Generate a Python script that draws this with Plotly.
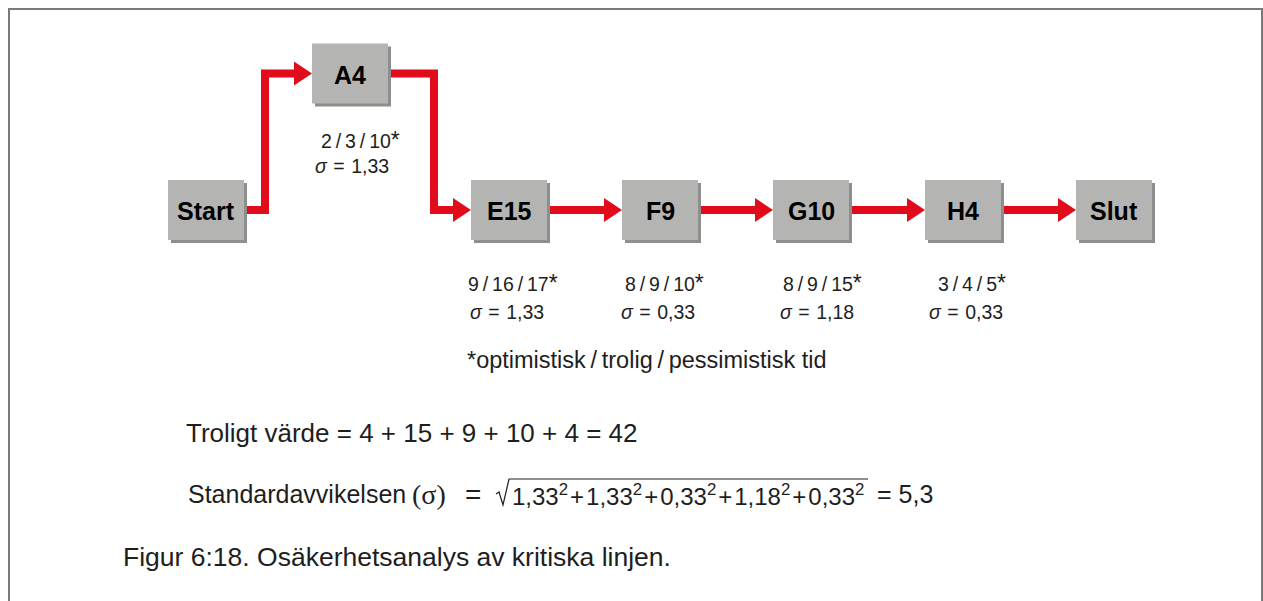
import plotly.graph_objects as go

# ---------------- data ----------------
nodes = ["Start", "A4", "E15", "F9", "G10", "H4", "Slut"]
edges = [("Start", "A4"), ("A4", "E15"), ("E15", "F9"), ("F9", "G10"), ("G10", "H4"), ("H4", "Slut")]
act_nodes = ["A4", "E15", "F9", "G10", "H4"]
optimistic = [2, 9, 8, 8, 3]
likely = [3, 16, 9, 9, 4]
pessimistic = [10, 17, 10, 15, 5]
sigma = ["1,33", "1,33", "0,33", "1,18", "0,33"]
legend_parts = ["*optimistisk", "trolig", "pessimistisk tid"]
sum_terms = [4, 15, 9, 10, 4]
sum_total = 42
sd_terms = ["1,33", "1,33", "0,33", "1,18", "0,33"]
sd_total = "5,3"
caption = "Figur 6:18. Osäkerhetsanalys av kritiska linjen."

# ---------------- layout constants ----------------
W, H = 1263, 601
pos = {"Start": (206, 210), "A4": (350, 73.5), "E15": (509, 210), "F9": (660, 210),
       "G10": (811, 210), "H4": (963, 210), "Slut": (1114, 210)}
BW, BH = 76, 60
RED = "#e10b1c"
BOX = "#b4b5b2"
SHADOW = "#8e8f8c"
TXT = "#1e1e1e"
lbl_xy = {"A4": (319, 313, 140, 166), "E15": (466, 468, 283, 312), "F9": (623, 619, 283, 312),
          "G10": (781, 778, 283, 312), "H4": (936, 927, 283, 312)}
FONT = "Liberation Sans, Arial, sans-serif"
SERIF = "Liberation Serif, Times New Roman, serif"
TS = "\u2009"
HS = "\u200a"

fig = go.Figure()
shapes = []
annotations = []

# frame
shapes.append(dict(type="path", path=f"M 9 {H} L 9 9 L 1262 9 L 1262 {H}",
                   line=dict(color="#7a7a7a", width=2), layer="below"))

# boxes
for n in nodes:
    cx, cy = pos[n]
    x0, x1, y0, y1 = cx - BW / 2, cx + BW / 2, cy - BH / 2, cy + BH / 2
    shapes.append(dict(type="rect", x0=x0 + 3, x1=x1 + 3, y0=y0 + 3, y1=y1 + 3,
                       fillcolor=SHADOW, line=dict(width=0)))
    shapes.append(dict(type="rect", x0=x0, x1=x1, y0=y0, y1=y1,
                       fillcolor=BOX, line=dict(width=0)))
    annotations.append(dict(x=cx, y=cy + 1, text=f"<b>{n}</b>", showarrow=False,
                            font=dict(family=FONT, size=25, color="black"),
                            xanchor="center", yanchor="middle"))

# arrows
HEAD_L, HEAD_H = 18, 12
for a, b in edges:
    ax, ay = pos[a]
    bx, by = pos[b]
    sx = ax + BW / 2
    tx = bx - BW / 2
    if abs(ay - by) < 1:
        xs = [sx, tx - HEAD_L + 1]
        ys = [ay, by]
    else:
        mx = sx + (21 if a == "Start" else 46)
        xs = [sx, mx, mx, tx - HEAD_L + 1]
        ys = [ay, ay, by, by]
    fig.add_trace(go.Scatter(x=xs, y=ys, mode="lines", line=dict(color=RED, width=8),
                             hoverinfo="skip", showlegend=False))
    fig.add_trace(go.Scatter(x=[tx - HEAD_L, tx, tx - HEAD_L, tx - HEAD_L],
                             y=[by - HEAD_H, by, by + HEAD_H, by - HEAD_H],
                             mode="lines", fill="toself", fillcolor=RED,
                             line=dict(color=RED, width=0), hoverinfo="skip", showlegend=False))

# activity labels
for i, n in enumerate(act_nodes):
    x1, x2, y1, y2 = lbl_xy[n]
    t = (f"{optimistic[i]}{TS}/{TS}{likely[i]}{TS}/{TS}{pessimistic[i]}"
         f"<span style='font-size:23px'>*</span>")
    annotations.append(dict(x=x1, y=y1, text=t,
                            showarrow=False, xanchor="left", yanchor="middle",
                            font=dict(family=FONT, size=19.5, color=TXT)))
    annotations.append(dict(x=x2, y=y2, text=f"<i>σ</i>\u2004=\u2004{sigma[i]}",
                            showarrow=False, xanchor="left", yanchor="middle",
                            font=dict(family=FONT, size=19.5, color=TXT)))

annotations.append(dict(x=647, y=360, text=f"{TS}/{TS}".join(legend_parts), showarrow=False,
                        xanchor="center", yanchor="middle",
                        font=dict(family=FONT, size=23.5, color=TXT)))

annotations.append(dict(x=184, y=433,
                        text="Troligt värde = " + " + ".join(str(t) for t in sum_terms) + f" = {sum_total}",
                        showarrow=False, xanchor="left", yanchor="middle",
                        font=dict(family=FONT, size=26, color=TXT)))

# standard deviation formula
annotations.append(dict(x=186, y=494, text="Standardavvikelsen", showarrow=False,
                        xanchor="left", yanchor="middle",
                        font=dict(family=FONT, size=25, color=TXT)))
annotations.append(dict(x=410, y=494, text="(σ)", showarrow=False,
                        xanchor="left", yanchor="middle",
                        font=dict(family=SERIF, size=28, color=TXT)))
annotations.append(dict(x=463, y=494, text="=", showarrow=False,
                        xanchor="left", yanchor="middle",
                        font=dict(family=FONT, size=28, color=TXT)))
rad = f"{HS}+{HS}".join(f"{t}<sup>2</sup>" for t in sd_terms)
annotations.append(dict(x=510, y=495, text=rad, showarrow=False,
                        xanchor="left", yanchor="middle",
                        font=dict(family=FONT, size=24, color=TXT)))
annotations.append(dict(x=875, y=494, text=f"= {sd_total}", showarrow=False,
                        xanchor="left", yanchor="middle",
                        font=dict(family=FONT, size=25, color=TXT)))
shapes.append(dict(type="path", path="M 496 494 L 499 492 L 503 505 L 509 479 L 868 479",
                   line=dict(color=TXT, width=1.2)))

annotations.append(dict(x=121, y=557, text=caption, showarrow=False,
                        xanchor="left", yanchor="middle",
                        font=dict(family=FONT, size=26.5, color=TXT)))

fig.update_layout(
    width=W, height=H, margin=dict(l=0, r=0, t=0, b=0),
    paper_bgcolor="white", plot_bgcolor="white",
    xaxis=dict(range=[0, W], visible=False, fixedrange=True),
    yaxis=dict(range=[H, 0], visible=False, fixedrange=True),
    shapes=shapes, annotations=annotations, showlegend=False,
)

fig.write_html("out.html", config={"displayModeBar": False},
               post_script="document.body.style.margin='0';document.body.style.overflow='hidden';")
